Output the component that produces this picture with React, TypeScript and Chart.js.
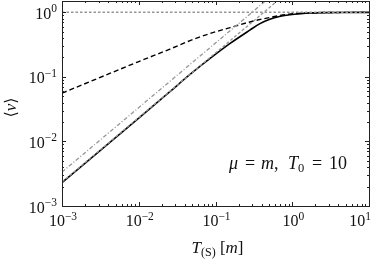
import React, { useEffect, useRef } from "react";
import { Chart, registerables } from "chart.js";

Chart.register(...registerables);

const X_MIN = 1e-3;
const X_MAX = 10;
const Y_MIN = 1e-3;
const Y_MAX = 1.5;

const xTickExps = [-3, -2, -1, 0, 1];
const yTickExps = [-3, -2, -1, 0];

// solid black curve
const tSolid = [0.001, 0.01, 0.025, 0.047, 0.085, 0.155, 0.28, 0.38, 0.51, 0.7, 0.935, 1.3, 1.7, 2.5, 4, 10];
const vSolid = [0.0023, 0.023, 0.058, 0.11, 0.193, 0.33, 0.53, 0.67, 0.785, 0.87, 0.92, 0.955, 0.975, 0.99, 0.997, 1.0];

// dashed black curve
const tDashed = [0.001, 0.003, 0.01, 0.0255, 0.0466, 0.0848, 0.155, 0.28, 0.5, 0.9, 1.5, 3, 10];
const vDashed = [0.056, 0.096, 0.173, 0.27, 0.365, 0.47, 0.58, 0.71, 0.83, 0.935, 0.975, 0.995, 1.0];

// gray dashed asymptote
const tAsym = [0.001, 1];
const vAsym = [0.00235, 2.35];

// gray dash-dot line
const tDashDot = [0.001, 1];
const vDashDot = [0.00335, 3.35];

// dotted gray level
const tLevel = [0.001, 10];
const vLevel = [1, 1];

const GRAY = "rgb(150,150,150)";
const SERIF = '"Liberation Serif", "DejaVu Serif", serif';

const toPts = (xs: number[], ys: number[]) => xs.map((x, i) => ({ x, y: ys[i] }));

type Seg = { t: string; italic?: boolean; size?: number; dy?: number; at?: number };

function fontOf(s: Seg) {
  return `${s.italic ? "italic " : ""}${s.size ?? 16}px ${SERIF}`;
}

function measureRich(ctx: CanvasRenderingContext2D, segs: Seg[]) {
  return segs.map((s) => {
    ctx.font = fontOf(s);
    return ctx.measureText(s.t).width;
  });
}

function drawRich(ctx: CanvasRenderingContext2D, segs: Seg[], x: number, y: number, align: "left" | "center" | "right", maxRight = Infinity) {
  const widths = measureRich(ctx, segs);
  const total = widths.reduce((a, b) => a + b, 0);
  let cx = align === "left" ? x : align === "center" ? x - total / 2 : x - total;
  if (cx + total > maxRight) cx = maxRight - total;
  ctx.textAlign = "left";
  ctx.textBaseline = "alphabetic";
  segs.forEach((s, i) => {
    ctx.font = fontOf(s);
    const px = s.at !== undefined ? s.at : cx;
    ctx.fillText(s.t, px, y + (s.dy ?? 0));
    cx = px + widths[i];
  });
}

const powLabel = (e: number): Seg[] => [
  { t: "10", size: 16 },
  { t: e < 0 ? "\u2212" + Math.abs(e) : String(e), size: 11.5, dy: -6.5 },
];

const framePlugin = {
  id: "frame",
  afterDraw(chart: any) {
    const ctx: CanvasRenderingContext2D = chart.ctx;
    const { left, right, top, bottom } = chart.chartArea;
    const xs = chart.scales.x;
    const ys = chart.scales.y;
    ctx.save();
    ctx.strokeStyle = "#222";
    ctx.lineWidth = 1;
    const tick = (x1: number, y1: number, x2: number, y2: number) => {
      ctx.beginPath();
      ctx.moveTo(x1, y1);
      ctx.lineTo(x2, y2);
      ctx.stroke();
    };
    for (let k = -3; k <= 1; k++) {
      for (let m = 1; m <= 9; m++) {
        const v = m * Math.pow(10, k);
        if (v < X_MIN * 0.999 || v > X_MAX * 1.001) continue;
        const px = Math.round(xs.getPixelForValue(v)) + 0.5;
        const len = m === 1 ? 4 : 2;
        tick(px, bottom, px, bottom - len);
        tick(px, top, px, top + len);
      }
    }
    for (let k = -3; k <= 0; k++) {
      for (let m = 1; m <= 9; m++) {
        const v = m * Math.pow(10, k);
        if (v < Y_MIN * 0.999 || v > Y_MAX * 1.001) continue;
        const py = Math.round(ys.getPixelForValue(v)) + 0.5;
        const len = m === 1 ? 4 : 2;
        tick(left, py, left + len, py);
        tick(right, py, right - len, py);
      }
    }
    ctx.strokeRect(Math.round(left) + 0.5, Math.round(top) + 0.5, Math.round(right - left), Math.round(bottom - top));

    ctx.fillStyle = "#111";
    // x tick labels
    xTickExps.forEach((e) => {
      const px = xs.getPixelForValue(Math.pow(10, e));
      drawRich(ctx, powLabel(e), px + 1, bottom + 20, "center", 371);
    });
    // y tick labels
    yTickExps.forEach((e) => {
      const py = ys.getPixelForValue(Math.pow(10, e));
      drawRich(ctx, powLabel(e), left - 5, py + 6.5, "right");
    });
    // x axis title
    drawRich(
      ctx,
      [
        { t: "T", italic: true, size: 17 },
        { t: "(S)", size: 12, dy: 3 },
        { t: " [", size: 17 },
        { t: "m", italic: true, size: 17 },
        { t: "]", size: 17 },
      ],
      (left + right) / 2 + 2,
      bottom + 47,
      "center"
    );
    // y axis title
    ctx.save();
    ctx.translate(16, (top + bottom) / 2 + 4);
    ctx.rotate(-Math.PI / 2);
    drawRich(
      ctx,
      [
        { t: "\u27E8", size: 16 },
        { t: "v", italic: true, size: 17 },
        { t: "\u27E9", size: 16 },
      ],
      0,
      0,
      "center"
    );
    ctx.restore();
    // annotation
    drawRich(
      ctx,
      [
        { t: "\u03BC", italic: true, size: 18, at: 229 },
        { t: "=", size: 18, at: 245 },
        { t: "m", italic: true, size: 18, at: 261 },
        { t: ",", size: 18 },
        { t: "T", italic: true, size: 18, at: 288 },
        { t: "0", size: 12.5, dy: 3 },
        { t: "=", size: 18, at: 312 },
        { t: "10", size: 18, at: 329 },
      ],
      229,
      169,
      "left"
    );
    ctx.restore();
  },
};

export default function App() {
  const ref = useRef<HTMLCanvasElement | null>(null);
  useEffect(() => {
    if (!ref.current) return;
    const chart = new Chart(ref.current, {
      type: "line",
      data: {
        datasets: [
          {
            data: toPts(tLevel, vLevel),
            borderColor: GRAY,
            borderWidth: 1.5,
            borderDash: [2.5, 2],
            pointRadius: 0,
          },
          {
            data: toPts(tDashDot, vDashDot),
            borderColor: GRAY,
            borderWidth: 1.3,
            borderDash: [4, 2, 1, 2],
            pointRadius: 0,
          },
          {
            data: toPts(tAsym, vAsym),
            borderColor: GRAY,
            borderWidth: 1.3,
            borderDash: [3, 2],
            pointRadius: 0,
          },
          {
            data: toPts(tDashed, vDashed),
            borderColor: "#000",
            borderWidth: 1.4,
            borderDash: [5, 3],
            pointRadius: 0,
            cubicInterpolationMode: "monotone",
          },
          {
            data: toPts(tSolid, vSolid),
            borderColor: "#000",
            borderWidth: 1.6,
            pointRadius: 0,
            cubicInterpolationMode: "monotone",
          },
        ],
      },
      options: {
        animation: false,
        responsive: false,
        layout: { padding: { left: 62, right: 5, top: 1, bottom: 56 } },
        plugins: { legend: { display: false }, tooltip: { enabled: false } },
        scales: {
          x: { type: "logarithmic", min: X_MIN, max: X_MAX, display: false },
          y: { type: "logarithmic", min: Y_MIN, max: Y_MAX, display: false },
        },
      },
      plugins: [framePlugin],
    });
    return () => chart.destroy();
  }, []);
  return (
    <div style={{ position: "fixed", left: 0, top: 0, width: 374, height: 262, background: "#fff" }}>
      <canvas ref={ref} width={374} height={262} />
    </div>
  );
}
